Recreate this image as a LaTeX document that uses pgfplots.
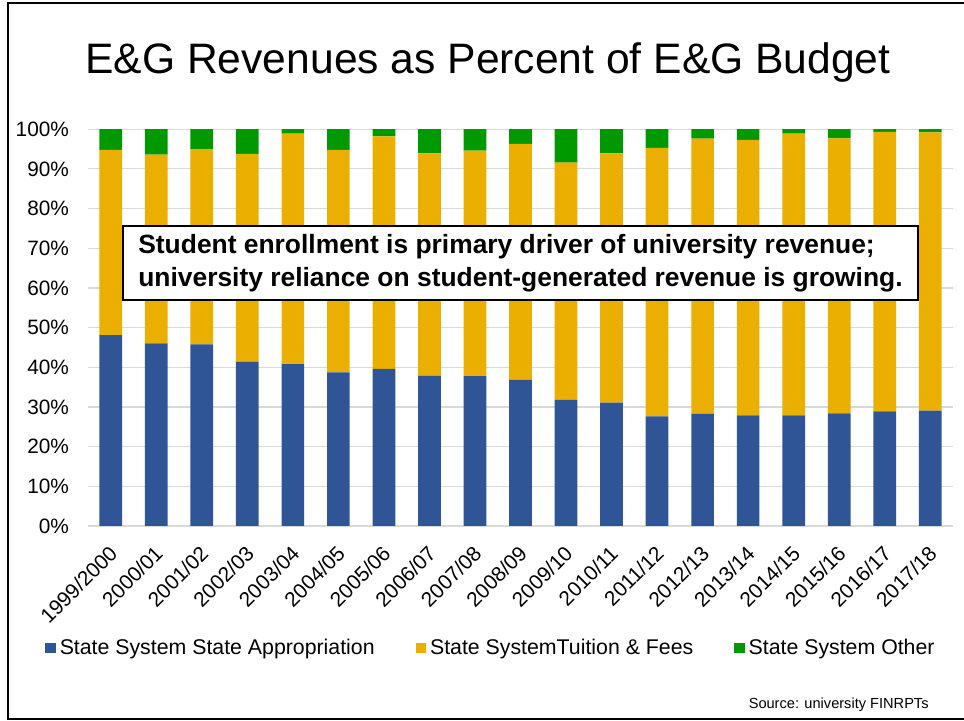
\documentclass[border=0pt]{standalone}
\usepackage{pgfplots}
\usepackage{pgfplotstable}
\pgfplotsset{compat=1.18}
\usepackage{fontspec}
\setmainfont{Liberation Sans}

\definecolor{approp}{RGB}{47,85,151}
\definecolor{tuition}{RGB}{234,175,0}
\definecolor{other}{RGB}{0,153,0}
\definecolor{gridgray}{RGB}{217,217,217}

% shares of the E&G budget, percent
\pgfplotstableread{
x  approp tuition other
0  48.1   46.7    5.2
1  46.0   47.6    6.4
2  45.8   49.2    5.0
3  41.4   52.4    6.2
4  40.8   58.1    1.1
5  38.7   56.1    5.2
6  39.6   58.6    1.8
7  37.9   56.0    6.1
8  37.8   56.8    5.4
9  36.8   59.5    3.7
10 31.8   59.8    8.4
11 31.1   62.8    6.1
12 27.6   67.7    4.7
13 28.3   69.3    2.4
14 27.9   69.4    2.7
15 27.9   71.0    1.1
16 28.4   69.3    2.3
17 28.9   70.4    0.7
18 29.1   70.1    0.8
}\revenues

\begin{document}
\begin{tikzpicture}
\useasboundingbox (0,0) rectangle (482pt,360.5pt);
\draw[line width=1.2pt] (483pt,359pt) -- (4pt,359pt) -- (4pt,1pt) -- (483pt,1pt);
\node[font=\fontsize{21.3}{25}\selectfont] at (244pt,329pt) {E\&G Revenues as Percent of E\&G Budget};
\begin{axis}[
  at={(44pt,97.5pt)}, anchor=south west, scale only axis,
  width=432.5pt, height=198.4pt,
  ybar stacked, bar width=11.35pt,
  xmin=-0.5, xmax=18.5, ymin=0, ymax=100,
  ytick={0,10,...,100},
  yticklabel={\pgfmathprintnumber{\tick}\%},
  /pgf/number format/assume math mode=true,
  xtick=data,
  xticklabels={1999/2000,2000/01,2001/02,2002/03,2003/04,2004/05,2005/06,2006/07,2007/08,2008/09,2009/10,2010/11,2011/12,2012/13,2013/14,2014/15,2015/16,2016/17,2017/18},
  xticklabel style={xshift=3.8pt, yshift=-9.4pt, rotate=45, anchor=east, font=\fontsize{10.4}{12}\selectfont},
  yticklabel style={font=\fontsize{10.4}{12}\selectfont, xshift=-6pt},
  major tick length=0pt,
  axis line style={draw=none},
  ymajorgrids, grid style={gridgray, line width=0.6pt},
  legend style={at={(0.467,-0.3075)}, anchor=center, draw=none, fill=none,
    legend columns=3, font=\fontsize{10.65}{12}\selectfont,
    /tikz/every even column/.append style={column sep=18.5pt}},
  legend image code/.code={\fill[#1] (0pt,-2.6pt) rectangle (5.2pt,2.6pt);},
]
\addplot[fill=approp, draw=none] table[x=x, y=approp] {\revenues};
\addlegendentry{State System State Appropriation}
\addplot[fill=tuition, draw=none] table[x=x, y=tuition] {\revenues};
\addlegendentry{State SystemTuition \& Fees}
\addplot[fill=other, draw=none] table[x=x, y=other] {\revenues};
\addlegendentry{State System Other}
\end{axis}
\node[draw, line width=1.2pt, fill=white, minimum width=397.5pt, inner sep=4pt,
  minimum height=37pt, align=left,
  font=\bfseries\fontsize{13.2}{16.5}\selectfont] at (260.25pt,229pt)
  {Student enrollment is primary driver of university revenue;\\
   university reliance on student-generated revenue is growing.};
\node[anchor=east, inner sep=0pt, font=\fontsize{7.3}{9}\selectfont] at (464.5pt,8pt) {Source: university FINRPTs};
\end{tikzpicture}
\end{document}
